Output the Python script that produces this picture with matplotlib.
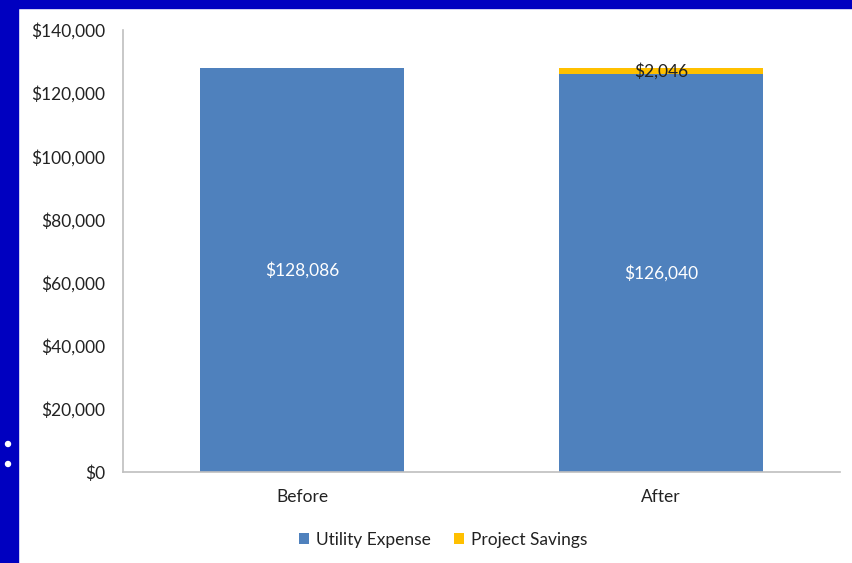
import matplotlib
matplotlib.use("Agg")
import matplotlib.pyplot as plt
from matplotlib.patches import Rectangle, Ellipse
from matplotlib.ticker import FuncFormatter

categories = ["Before", "After"]
utility_expense = [128086, 126040]
project_savings = [0, 2046]
series_names = ["Utility Expense", "Project Savings"]
y_ticks = [0, 20000, 40000, 60000, 80000, 100000, 120000, 140000]

plt.rcParams['font.family'] = ['Lato', 'DejaVu Sans']

fig = plt.figure(figsize=(8.52, 5.63), dpi=100)
fig.patch.set_facecolor("white")
# blue frame
fig.add_artist(Rectangle((0, 1 - 8/563), 1, 8/563, transform=fig.transFigure, color="#0000C0", zorder=0))
fig.add_artist(Rectangle((0, 0), 18/852, 1, transform=fig.transFigure, color="#0000C0", zorder=0))
for yy in [444, 464]:
    fig.add_artist(Ellipse((8/852, 1 - yy/563), 5/852, 5/563, transform=fig.transFigure, color="white", zorder=1))

ax = fig.add_axes([123/852, (563-472)/563, (840-123)/852, (472-30)/563])
x = list(range(len(categories)))
width = 0.57
blue = "#4F81BD"
gold = "#FFC000"
ax.bar(x, utility_expense, width, color=blue, label=series_names[0], zorder=2)
ax.bar(x, project_savings, width, bottom=utility_expense, color=gold, label=series_names[1], zorder=2)

ax.set_xlim(-0.5, 1.5)
ax.set_ylim(0, 140000)
ax.set_yticks(y_ticks)
ax.yaxis.set_major_formatter(FuncFormatter(lambda v, p: f"${v:,.0f}"))
ax.set_xticks(x)
ax.set_xticklabels(categories)
ax.tick_params(axis="both", length=0, labelsize=12.5, colors="#222222")
ax.tick_params(axis="y", pad=13)
ax.tick_params(axis="x", pad=12)
for s in ["top", "right"]:
    ax.spines[s].set_visible(False)
for s in ["left", "bottom"]:
    ax.spines[s].set_color("#BFBFBF")
    ax.spines[s].set_linewidth(1.2)

for i in x:
    ax.text(i, utility_expense[i] / 2, f"${utility_expense[i]:,}", ha="center", va="center",
            color="white", fontsize=12.5)
    if project_savings[i] > 0:
        ax.text(i, utility_expense[i] + project_savings[i] / 2, f"${project_savings[i]:,}",
                ha="center", va="center", color="#222222", fontsize=12.5)

leg = fig.legend(loc="center", bbox_to_anchor=(443/852, 1 - 540/563), ncol=2, frameon=False,
                 fontsize=12.5, handlelength=0.6, handleheight=0.6, columnspacing=1.3, handletextpad=0.4)
for t in leg.get_texts():
    t.set_color("#222222")

fig.savefig("out.png", dpi=100)
